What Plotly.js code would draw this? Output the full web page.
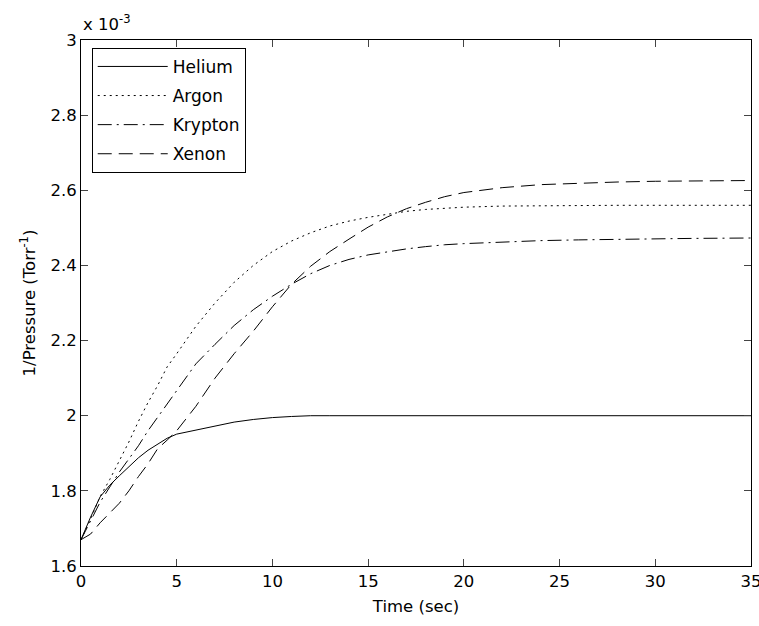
<!DOCTYPE html>
<html>
<head>
<meta charset="utf-8">
<script src="https://cdn.plot.ly/plotly-3.0.1.min.js"></script>
<style>html,body{margin:0;padding:0;background:#fff;}#chart{width:759px;height:626px;}</style>
</head>
<body>
<div id="chart"></div>
<script>
// Time (sec)
var time = [0,0.5,1,1.5,2,2.5,3,3.5,4,4.5,5,6,7,8,9,10,11,12,13,14,15,16,17,18,19,20,22,24,26,28,30,32,35];
// 1/Pressure in units of 1e-3 Torr^-1
var helium  = [1.67,1.73,1.784,1.815,1.840,1.865,1.888,1.908,1.924,1.940,1.951,1.962,1.974,1.983,1.990,1.995,1.998,2.0,2.0,2.0,2.0,2.0,2.0,2.0,2.0,2.0,2.0,2.0,2.0,2.0,2.0,2.0,2.0];
var argon   = [1.67,1.725,1.785,1.830,1.880,1.930,1.985,2.035,2.080,2.130,2.165,2.238,2.300,2.355,2.400,2.437,2.465,2.487,2.505,2.518,2.528,2.537,2.544,2.549,2.552,2.555,2.558,2.559,2.560,2.560,2.560,2.560,2.560];
var krypton = [1.67,1.72,1.77,1.81,1.85,1.885,1.92,1.96,1.995,2.03,2.065,2.138,2.19,2.24,2.282,2.318,2.350,2.378,2.400,2.416,2.428,2.437,2.444,2.450,2.455,2.458,2.463,2.466,2.468,2.470,2.471,2.472,2.473];
var xenon   = [1.67,1.685,1.715,1.74,1.767,1.80,1.838,1.872,1.912,1.935,1.960,2.025,2.100,2.165,2.225,2.290,2.350,2.398,2.437,2.470,2.502,2.529,2.551,2.568,2.583,2.594,2.607,2.615,2.619,2.622,2.624,2.625,2.626];
var names = ['Helium','Argon','Krypton','Xenon'];
var xTicks = [0,5,10,15,20,25,30,35];
var yTicks = [1.6,1.8,2.0,2.2,2.4,2.6,2.8,3.0];
var dashes = ['solid','2px,4px','14px,5px,2px,5px','14px,7px'];
var series = [helium, argon, krypton, xenon];

var traces = series.map(function(s, i){
  return {x: time, y: s, type: 'scatter', mode: 'lines', name: names[i],
          legendgroup: 'g'+i,
          line: {color: '#000', width: 1, dash: dashes[i]}};
});

var font = {family: '"DejaVu Sans", sans-serif', size: 16.5, color: '#000'};
var legFont = {family: '"DejaVu Sans", sans-serif', size: 17, color: '#000'};
var layout = {
  width: 759, height: 626,
  margin: {l: 81, r: 8, t: 40, b: 60},
  paper_bgcolor: '#fff', plot_bgcolor: '#fff',
  font: font,
  showlegend: true,
  legend: {x: 0.016, y: 0.985, xanchor: 'left', yanchor: 'top',
           bordercolor: '#000', borderwidth: 1, bgcolor: '#fff',
           tracegroupgap: 4, itemwidth: 70, font: legFont},
  xaxis: {range: [0, 35], tickvals: xTicks, ticks: 'inside', ticklen: 7, ticklabeloverflow: 'allow',
          showline: true, linecolor: '#000', linewidth: 1, mirror: 'ticks', showgrid: false, zeroline: false,
          title: {text: 'Time (sec)', font: font, standoff: 10}, tickfont: font},
  yaxis: {range: [1.6, 3.0], tickvals: yTicks, ticks: 'inside', ticklen: 7, ticklabeloverflow: 'allow',
          showline: true, linecolor: '#000', linewidth: 1, mirror: 'ticks', showgrid: false, zeroline: false,
          title: {text: '1/Pressure (Torr<sup>-1</sup>)', font: font, standoff: 10}, tickfont: font},
  annotations: [{xref: 'paper', yref: 'paper', x: 0, y: 1, xanchor: 'left', yanchor: 'bottom',
                 text: 'x 10<sup>-3</sup>', showarrow: false, font: font, yshift: 4}]
};
Plotly.newPlot('chart', traces, layout, {displayModeBar: false, staticPlot: true});
</script>
</body>
</html>
